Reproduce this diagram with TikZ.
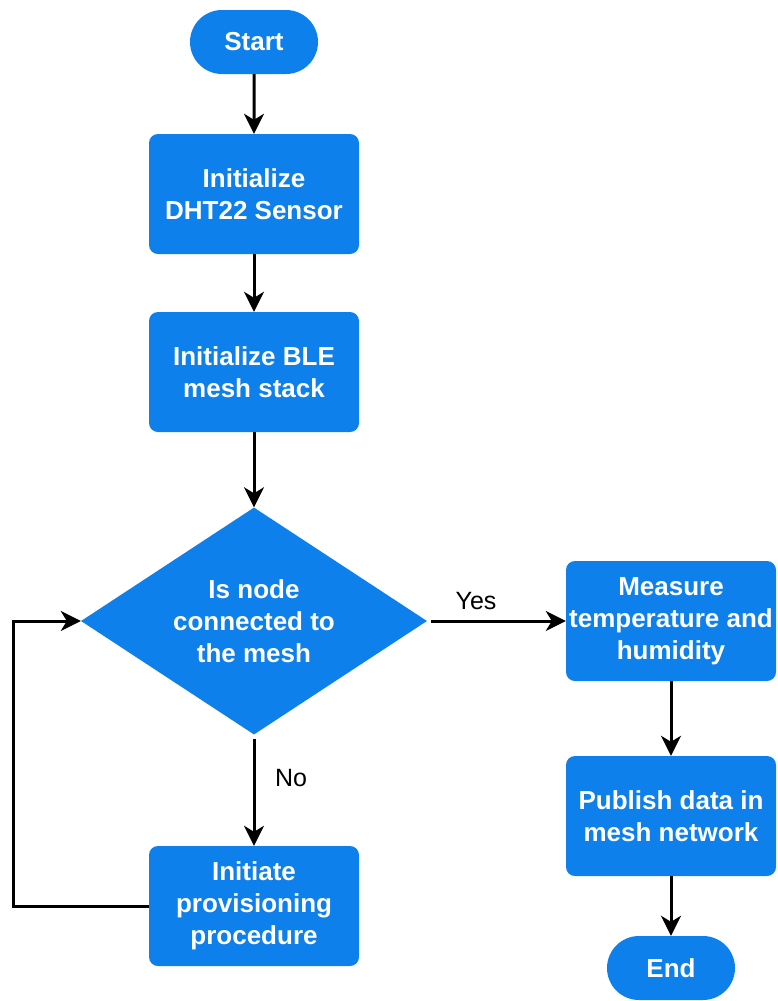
\documentclass[tikz,border=0pt]{standalone}
\usepackage{fontspec}
\setmainfont{Liberation Sans}
\usetikzlibrary{shapes.geometric,shapes.misc,arrows.meta}
\definecolor{flowblue}{RGB}{14,128,236}
\tikzset{
  base/.style={fill=flowblue, draw=none, text=white, align=center,
    font=\fontsize{26}{32}\selectfont\bfseries, inner sep=0pt},
  terminal/.style={base, rounded rectangle, minimum width=128pt, minimum height=64pt},
  process/.style={base, rectangle, rounded corners=9pt, minimum width=210pt, minimum height=120pt},
  decision/.style={base, diamond, aspect=1.52, minimum width=346pt, minimum height=227pt},
  flow/.style={line width=3pt, -{Stealth[length=20pt,width=20pt,inset=6pt]}},
  lbl/.style={font=\fontsize{25}{30}\selectfont}
}
\begin{document}
\begin{tikzpicture}[x=1pt,y=-1pt]
  \fill[white] (0,0) rectangle (778,1001);
  \useasboundingbox (0,0) rectangle (778,1001);

  \node[terminal] (start) at (254,42) {Start};
  \node[process] (dht) at (254,194) {Initialize\\DHT22 Sensor};
  \node[process] (ble) at (254,372) {Initialize BLE\\mesh stack};
  \node[decision] (conn) at (254,621) {Is node\\connected to\\the mesh};
  \node[process] (prov) at (254,906) {Initiate\\provisioning\\procedure};
  \node[process] (meas) at (671,621) {Measure\\temperature and\\humidity};
  \node[process] (pub) at (671,816) {Publish data in\\mesh network};
  \node[terminal] (end) at (671,968) {End};

  \coordinate (loopbot) at (13,906);
  \coordinate (looptop) at (13,621);

  \draw[flow] (start) -- (dht);
  \draw[flow] (dht) -- (ble);
  \draw[flow] (ble) -- (conn);
  \draw[flow] (conn.south) ++(0,4) -- (prov.north);
  \draw[flow] (conn.east) ++(4,0) -- (meas.west);
  \draw[flow] (meas) -- (pub);
  \draw[flow] (pub) -- (end);
  \draw[flow] (prov.west) -- (loopbot) -- (looptop) -- (conn.west);

  \node[lbl] (yes) at (476,601) {Yes};
  \node[lbl] (no) at (291,778) {No};
\end{tikzpicture}
\end{document}
